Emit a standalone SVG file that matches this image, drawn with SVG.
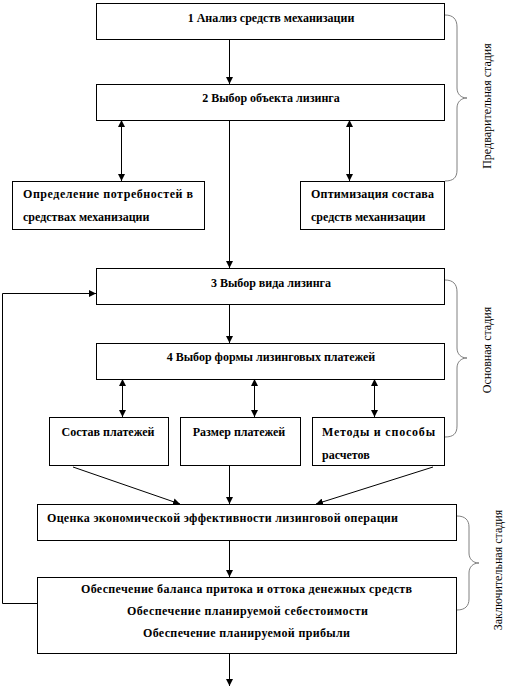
<svg xmlns="http://www.w3.org/2000/svg" width="520" height="687" viewBox="0 0 520 687">
<defs>
<marker id="ah" viewBox="0 0 10 10" refX="10" refY="5" markerWidth="7" markerHeight="7" orient="auto-start-reverse" markerUnits="userSpaceOnUse">
<path d="M0,0 L10,5 L0,10 z" fill="#000"/>
</marker>
<style>
.box{fill:#fff;stroke:#000;stroke-width:1}
.t{font-family:'Liberation Serif','DejaVu Serif',serif;font-weight:bold;font-size:12px;fill:#000}
.c{text-anchor:middle}
.ln{stroke:#000;stroke-width:1;fill:none}
.br{stroke:#808080;stroke-width:1;fill:none}
.s{font-family:'Liberation Serif','DejaVu Serif',serif;font-size:12px;fill:#000;text-anchor:middle}
</style>
</defs>
<rect width="520" height="687" fill="#fff"/>
<g id="connectors">
<line class="ln" x1="229.5" y1="39" x2="229.5" y2="84" marker-end="url(#ah)"/>
<line class="ln" x1="121.5" y1="120" x2="121.5" y2="181" marker-start="url(#ah)" marker-end="url(#ah)"/>
<line class="ln" x1="349.5" y1="120" x2="349.5" y2="181" marker-start="url(#ah)" marker-end="url(#ah)"/>
<line class="ln" x1="229.5" y1="120" x2="229.5" y2="268" marker-end="url(#ah)"/>
<line class="ln" x1="229.5" y1="304" x2="229.5" y2="343" marker-end="url(#ah)"/>
<line class="ln" x1="122.5" y1="379" x2="122.5" y2="417" marker-start="url(#ah)" marker-end="url(#ah)"/>
<line class="ln" x1="254.5" y1="379" x2="254.5" y2="417" marker-start="url(#ah)" marker-end="url(#ah)"/>
<line class="ln" x1="374.5" y1="379" x2="374.5" y2="417" marker-start="url(#ah)" marker-end="url(#ah)"/>
<line class="ln" x1="73" y1="467" x2="180" y2="504" marker-end="url(#ah)"/>
<line class="ln" x1="229.5" y1="466" x2="229.5" y2="504" marker-end="url(#ah)"/>
<line class="ln" x1="433" y1="467" x2="316" y2="504" marker-end="url(#ah)"/>
<line class="ln" x1="229.5" y1="540" x2="229.5" y2="577" marker-end="url(#ah)"/>
<polyline class="ln" points="37,603.5 2.5,603.5 2.5,293.5 96,293.5" marker-end="url(#ah)"/>
<line class="ln" x1="229.5" y1="653" x2="229.5" y2="686" marker-end="url(#ah)"/>
</g>
<g id="n1"><rect class="box" x="96.5" y="3.5" width="348" height="36"/><text class="t c" x="271" y="22">1 Анализ средств механизации</text></g>
<g id="n2"><rect class="box" x="96.5" y="84.5" width="348" height="36"/><text class="t c" x="271" y="102">2 Выбор объекта лизинга</text></g>
<g id="n2a"><rect class="box" x="12.5" y="181.5" width="192" height="48"/><text class="t" x="23" y="198" textLength="170" lengthAdjust="spacing">Определение  потребностей  в</text><text class="t" x="23" y="221">средствах  механизации</text></g>
<g id="n2b"><rect class="box" x="300.5" y="181.5" width="144" height="48"/><text class="t" x="311" y="198" textLength="123" lengthAdjust="spacing">Оптимизация  состава</text><text class="t" x="311" y="221">средств  механизации</text></g>
<g id="n3"><rect class="box" x="96.5" y="268.5" width="348" height="36"/><text class="t c" x="271" y="287">3 Выбор вида лизинга</text></g>
<g id="n4"><rect class="box" x="96.5" y="343.5" width="348" height="36"/><text class="t c" x="271" y="361">4 Выбор формы лизинговых  платежей</text></g>
<g id="n4a"><rect class="box" x="49.5" y="417.5" width="119" height="48"/><text class="t c" x="108" y="436">Состав платежей</text></g>
<g id="n4b"><rect class="box" x="180.5" y="417.5" width="120" height="48"/><text class="t c" x="239" y="436">Размер платежей</text></g>
<g id="n4c"><rect class="box" x="312.5" y="417.5" width="132" height="48"/><text class="t" x="322" y="436" textLength="113" lengthAdjust="spacing">Методы  и  способы</text><text class="t" x="322" y="459">расчетов</text></g>
<g id="n5"><rect class="box" x="37.5" y="504.5" width="419" height="36"/><text class="t" x="47" y="522" textLength="351" lengthAdjust="spacing">Оценка  экономической эффективности лизинговой  операции</text></g>
<g id="n6"><rect class="box" x="37.5" y="577.5" width="419" height="76"/><text class="t c" x="246.5" y="593" textLength="331" lengthAdjust="spacing">Обеспечение баланса притока и оттока денежных  средств</text><text class="t c" x="247.5" y="615" textLength="241" lengthAdjust="spacing">Обеспечение планируемой себестоимости</text><text class="t c" x="246.5" y="637" textLength="207" lengthAdjust="spacing">Обеспечение планируемой прибыли</text></g>
<g id="braces">
<path class="br" d="M445,15 C453,15 457,19 457,27 L457,88 C457,94 461,98 467,98 C461,98 457,102 457,108 L457,170 C457,178 453,181 445,181"/>
<path class="br" d="M445,280 C453,280 457,284 457,292 L457,348 C457,354 461,358 467,358 C461,358 457,362 457,368 L457,426 C457,434 453,437 445,437"/>
<path class="br" d="M457,516 C465,516 469,520 469,527 L469,553 C469,559 473,563 479,563 C473,563 469,567 469,573 L469,599 C469,606 465,610 457,610"/>
</g>
<g id="labels">
<text class="s" transform="translate(491,106) rotate(-90)">Предварительная стадия</text>
<text class="s" transform="translate(491,350) rotate(-90)">Основная стадия</text>
<text class="s" transform="translate(502,570) rotate(-90)">Заключительная стадия</text>
</g>
</svg>
